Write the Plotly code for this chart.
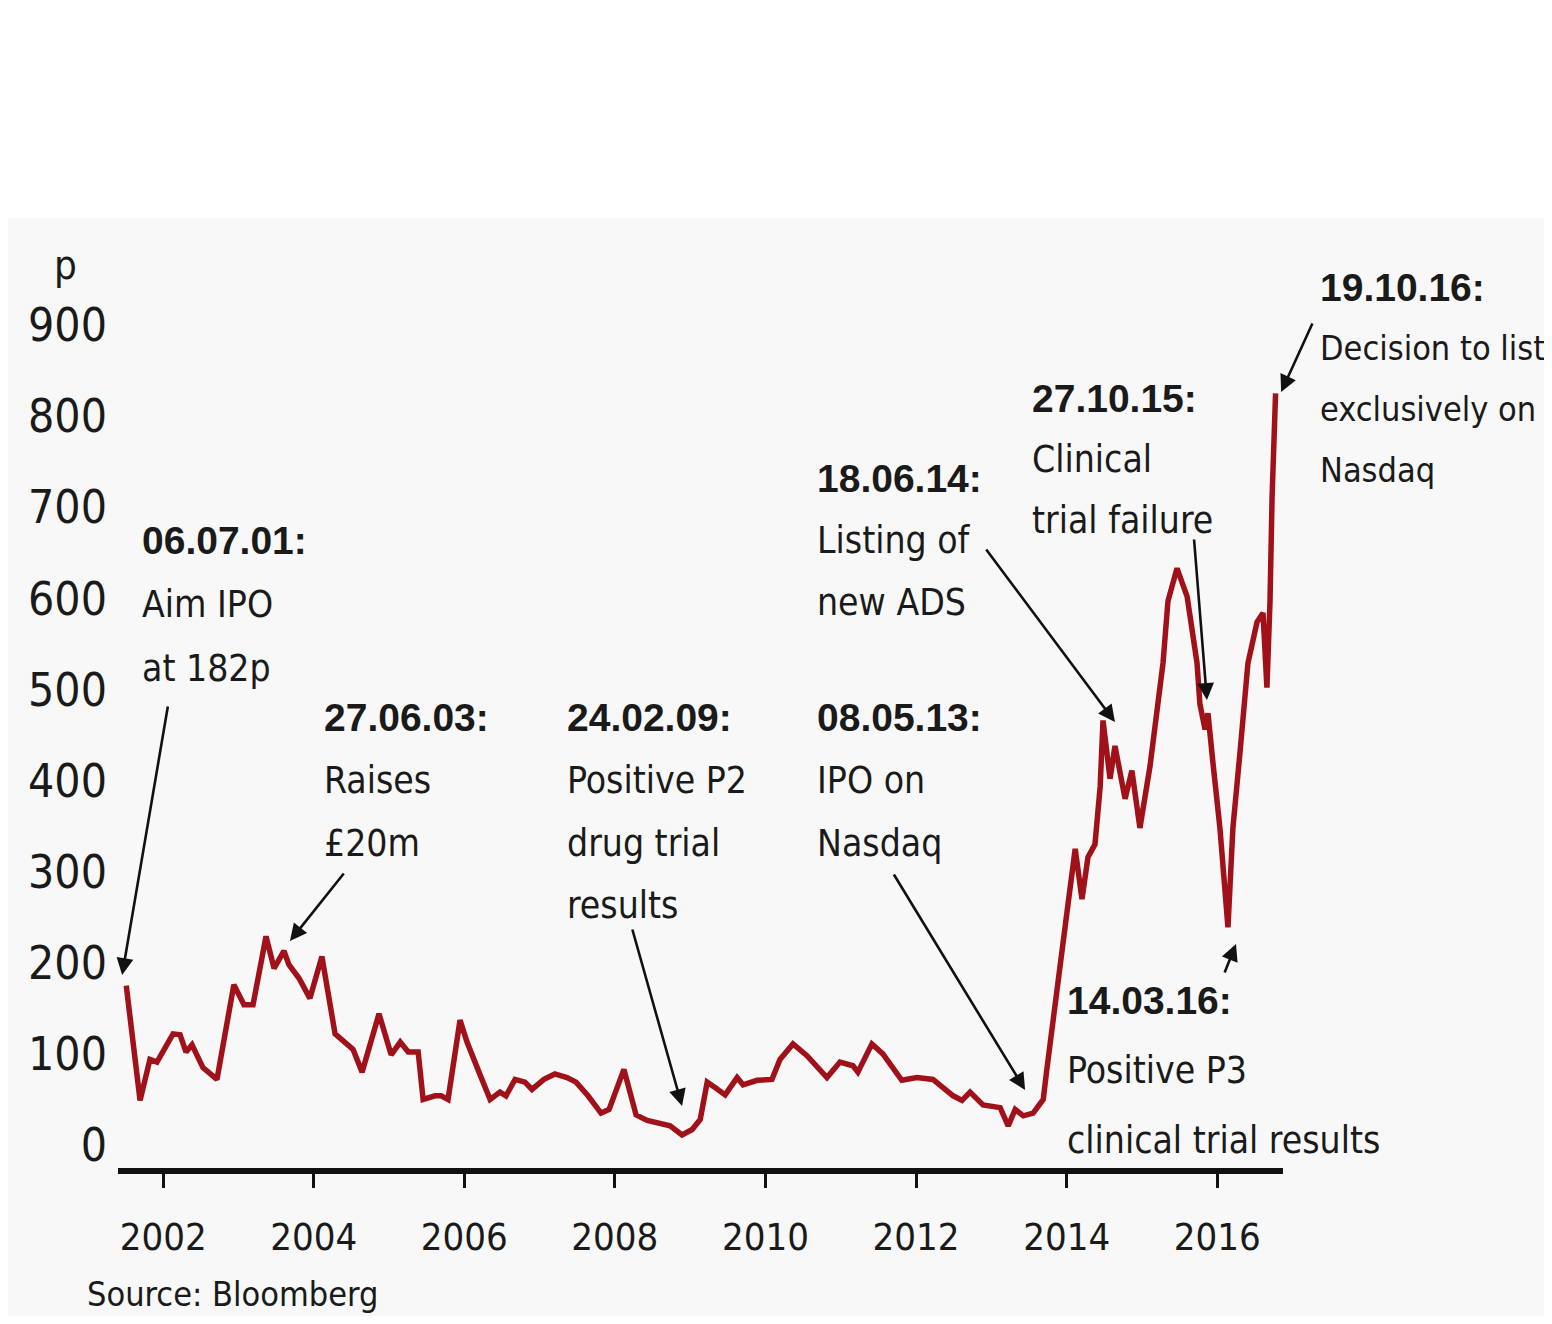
import plotly.graph_objects as go
from datetime import datetime, timedelta

# ---------------- data ----------------
dates = [
    "2001-07-06", "2001-09-11", "2001-10-29", "2001-12-02", "2002-02-18", "2002-03-24",
    "2002-04-22", "2002-05-21", "2002-07-13", "2002-09-19", "2002-12-10", "2003-01-28",
    "2003-03-13", "2003-05-15", "2003-06-23", "2003-08-10", "2003-09-03", "2003-10-22",
    "2003-12-14", "2004-02-10", "2004-04-14", "2004-07-10", "2004-08-23", "2004-11-13",
    "2005-01-11", "2005-02-24", "2005-04-04", "2005-05-22", "2005-06-15", "2005-08-12",
    "2005-09-10", "2005-10-14", "2005-12-11", "2006-01-14", "2006-03-13", "2006-05-06",
    "2006-06-23", "2006-07-22", "2006-09-04", "2006-10-22", "2006-11-25", "2007-01-22",
    "2007-03-16", "2007-05-14", "2007-06-27", "2007-08-24", "2007-10-26", "2007-12-04",
    "2008-02-14", "2008-04-13", "2008-06-06", "2008-08-03", "2008-09-25", "2008-11-22",
    "2009-01-10", "2009-02-18", "2009-03-24", "2009-05-01", "2009-06-19", "2009-08-16",
    "2009-09-14", "2009-11-21", "2010-02-01", "2010-03-12", "2010-05-14", "2010-07-21",
    "2010-10-26", "2010-12-28", "2011-03-01", "2011-03-25", "2011-06-01", "2011-07-24",
    "2011-10-24", "2012-01-05", "2012-03-23", "2012-06-29", "2012-08-11", "2012-09-19",
    "2012-11-21", "2013-02-12", "2013-03-23", "2013-04-26", "2013-06-04", "2013-07-22",
    "2013-09-09", "2013-09-27", "2013-11-15", "2014-01-03", "2014-02-11", "2014-03-16",
    "2014-04-14", "2014-05-18", "2014-06-12", "2014-06-26", "2014-07-30", "2014-08-23",
    "2014-10-11", "2014-11-13", "2014-12-22", "2015-02-09", "2015-04-13", "2015-05-07",
    "2015-06-20", "2015-08-08", "2015-09-25", "2015-10-09", "2015-11-03", "2015-11-17",
    "2015-12-11", "2016-01-14", "2016-02-22", "2016-03-17", "2016-04-20", "2016-05-29",
    "2016-07-12", "2016-08-10", "2016-08-29", "2016-09-13", "2016-09-23", "2016-10-10",
]
prices = [
    175, 49, 94, 91, 122, 121,
    102, 110, 85, 72, 176, 154,
    154, 229, 194, 213, 198, 183,
    161, 207, 122, 105, 80, 144,
    99, 113, 102, 102, 50, 54,
    54, 50, 137, 113, 80, 50,
    58, 54, 72, 69, 61, 72,
    78, 74, 69, 54, 35, 39,
    83, 33, 27, 24, 21, 11,
    17, 28, 69, 63, 55, 74,
    66, 71, 72, 94, 111, 98,
    74, 91, 87, 80, 111, 100,
    71, 74, 72, 54, 49, 58,
    44, 41, 21, 39, 32, 35,
    50, 84, 166, 257, 325, 270,
    316, 330, 393, 466, 402, 438,
    380, 411, 348, 416, 529, 597,
    633, 602, 529, 484, 456, 474,
    420, 348, 239, 348, 430, 529,
    574, 584, 502, 597, 711, 825,
]

tick_years = [2002, 2004, 2006, 2008, 2010, 2012, 2014, 2016]
tick_labels = ["2002", "2004", "2006", "2008", "2010", "2012", "2014", "2016"]
y_ticks = [0, 100, 200, 300, 400, 500, 600, 700, 800, 900]
y_labels = ["0", "100", "200", "300", "400", "500", "600", "700", "800", "900"]

event_dates = ["06.07.01:", "27.06.03:", "24.02.09:", "08.05.13:",
               "18.06.14:", "27.10.15:", "19.10.16:", "14.03.16:"]
event_texts = [
    ["Aim IPO", "at 182p"],
    ["Raises", "£20m"],
    ["Positive P2", "drug trial", "results"],
    ["IPO on", "Nasdaq"],
    ["Listing of", "new ADS"],
    ["Clinical", "trial failure"],
    ["Decision to list", "exclusively on", "Nasdaq"],
    ["Positive P3", "clinical trial results"],
]

# ---------------- layout geometry (pixels in the target picture) ----------------
OFF = 8                                 # page body margin of the html page
W, H = 1552 - 2 * OFF, 1324 - 2 * OFF   # figure size (avoid scrollbars)
PL, PR, PT, PB = 118, 1283, 220, 1168   # plot area in target pixels
X0_PX, PX_PER_YEAR = 163, 75.3          # Jan 2002 position, px per year
Y0_PX, PX_PER_UNIT = 1145, 0.911        # value 0 position, px per pence


def yf_to_date(yf):
    y = int(yf)
    start = datetime(y, 1, 1)
    days = (datetime(y + 1, 1, 1) - start).days
    return (start + timedelta(days=(yf - y) * days)).strftime("%Y-%m-%d")


def px_to_date(px):
    return yf_to_date(2002 + (px - X0_PX) / PX_PER_YEAR)


def py_to_val(py):
    return (Y0_PX - py) / PX_PER_UNIT


def xp(px):
    return (px - PL) / (PR - PL)


def yp(py):
    return (PB - py) / (PB - PT)


TXT = "#1a1a1a"
NARROW = "DejaVu Sans Condensed, Liberation Sans Narrow, Liberation Sans, sans-serif"
BOLD = "Liberation Sans, Arial, sans-serif"

fig = go.Figure()
fig.add_trace(go.Scatter(
    x=dates, y=prices, mode="lines",
    line=dict(color="#a0111a", width=5.5),
    hoverinfo="skip", showlegend=False,
))

annotations = []

# text blocks: (left px, first-line centre px, line spacing, body font size)
block_pos = [
    (140, 540, 64, 37), (322, 717, 63, 37), (565, 717, 63, 37), (815, 717, 63, 37),
    (815, 478, 62, 37), (1030, 398, 61, 37), (1318, 287, 61, 34), (1065, 1000, 70, 37),
]
for (bx, by, sp, fs), d, lines in zip(block_pos, event_dates, event_texts):
    annotations.append(dict(
        x=xp(bx), y=yp(by), xref="paper", yref="paper", text=d, showarrow=False,
        xanchor="left", yanchor="middle",
        font=dict(family=BOLD, size=39, color=TXT, weight="bold"),
    ))
    for i, t in enumerate(lines):
        annotations.append(dict(
            x=xp(bx), y=yp(by + sp * (i + 1)), xref="paper", yref="paper", text=t,
            showarrow=False, xanchor="left", yanchor="middle",
            font=dict(family=NARROW, size=fs, color=TXT),
        ))

# arrows: (tail px, tail py, head px, head py)
arrows = [
    (168, 705, 122, 975),
    (345, 872, 290, 941),
    (632, 928, 682, 1106),
    (893, 873, 1025, 1090),
    (985, 548, 1115, 722),
    (1194, 538, 1207, 700),
    (1224, 974, 1236, 944),
    (1313, 322, 1281, 392),
]
for tx, ty, hx, hy in arrows:
    annotations.append(dict(
        x=px_to_date(hx), y=py_to_val(hy), xref="x", yref="y",
        ax=px_to_date(tx), ay=py_to_val(ty), axref="x", ayref="y",
        text="", showarrow=True, arrowhead=2, arrowsize=1.3, arrowwidth=2.6,
        arrowcolor="#111111", standoff=0, startstandoff=0,
    ))

annotations.append(dict(
    x=xp(52), y=yp(265), xref="paper", yref="paper", text="p", showarrow=False,
    xanchor="left", yanchor="middle", font=dict(family=NARROW, size=40, color=TXT),
))
annotations.append(dict(
    x=xp(85), y=yp(1272), xref="paper", yref="paper", text="Source: Bloomberg",
    showarrow=False, xanchor="left", yanchor="top",
    font=dict(family=NARROW, size=34, color=TXT),
))

fig.update_layout(
    width=W, height=H,
    margin=dict(l=PL - OFF, r=W - (PR - OFF), t=PT - OFF, b=H - (PB - OFF), pad=0),
    paper_bgcolor="#ffffff", plot_bgcolor="rgba(0,0,0,0)",
    showlegend=False,
    annotations=annotations,
    shapes=[dict(type="rect", xref="paper", yref="paper", layer="below",
                 x0=xp(OFF - 4), x1=xp(W + OFF),
                 y0=yp(H + OFF), y1=yp(218), fillcolor="#f8f8f8", line=dict(width=0))],
)
fig.update_xaxes(
    type="date",
    range=[px_to_date(PL), px_to_date(PR)],
    tickvals=[f"{y}-01-01" for y in tick_years], ticktext=tick_labels,
    showgrid=False, zeroline=False,
    showline=True, linewidth=6, linecolor="#111111",
    ticks="outside", ticklen=14, tickwidth=2.5, tickcolor="#111111",
    tickfont=dict(family=NARROW, size=38, color=TXT),
    ticklabelstandoff=16,
)
fig.update_yaxes(
    range=[py_to_val(PB), py_to_val(PT)],
    tickvals=y_ticks, ticktext=y_labels,
    showgrid=False, zeroline=False, showline=False, ticks="",
    tickfont=dict(family=NARROW, size=46, color=TXT),
    ticklabelstandoff=10,
)

fig.write_html("out.html")
